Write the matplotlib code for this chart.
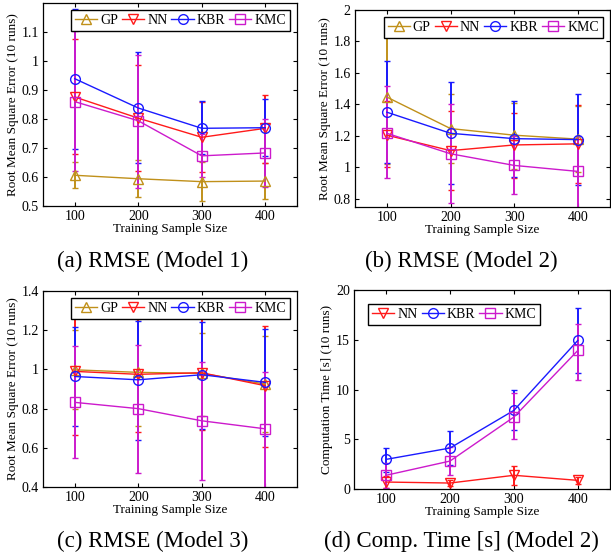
import matplotlib
matplotlib.use("Agg")
import matplotlib.pyplot as plt
from matplotlib.lines import Line2D

plt.rcParams['font.family'] = ['Liberation Serif', 'DejaVu Serif']
plt.rcParams['mathtext.fontset'] = 'stix'

sizes = [100, 200, 300, 400]

# ---- (a) RMSE Model 1 ----
a_gp = [0.606, 0.594, 0.584, 0.586]
a_gp_lo = [0.563, 0.532, 0.516, 0.523]
a_gp_hi = [0.652, 0.658, 0.652, 0.648]
a_nn = [0.876, 0.803, 0.737, 0.768]
a_nn_lo = [0.678, 0.620, 0.616, 0.648]
a_nn_hi = [1.077, 0.986, 0.857, 0.884]
a_kbr = [0.939, 0.838, 0.768, 0.770]
a_kbr_lo = [0.698, 0.647, 0.680, 0.672]
a_kbr_hi = [1.178, 1.030, 0.862, 0.868]
a_kmc = [0.860, 0.794, 0.673, 0.683]
a_kmc_lo = [0.620, 0.561, 0.600, 0.565]
a_kmc_hi = [1.104, 1.022, 0.750, 0.800]

# ---- (b) RMSE Model 2 ----
b_gp = [1.447, 1.247, 1.205, 1.180]
b_gp_lo = [1.020, 1.030, 0.990, 0.970]
b_gp_hi = [1.879, 1.464, 1.410, 1.390]
b_nn = [1.205, 1.107, 1.143, 1.150]
b_nn_lo = [1.000, 0.858, 0.935, 0.900]
b_nn_hi = [1.420, 1.357, 1.345, 1.394]
b_kbr = [1.351, 1.217, 1.183, 1.177]
b_kbr_lo = [1.026, 0.896, 0.940, 0.890]
b_kbr_hi = [1.675, 1.540, 1.420, 1.464]
b_kmc = [1.217, 1.087, 1.013, 0.975]
b_kmc_lo = [0.930, 0.777, 0.834, 0.700]
b_kmc_hi = [1.515, 1.400, 1.200, 1.200]

# ---- (c) RMSE Model 3 ----
c_gp = [0.998, 0.985, 0.980, 0.925]
c_gp_lo = [0.800, 0.713, 0.760, 0.680]
c_gp_hi = [1.200, 1.255, 1.187, 1.172]
c_nn = [0.990, 0.975, 0.983, 0.917]
c_nn_lo = [0.667, 0.679, 0.690, 0.605]
c_nn_hi = [1.310, 1.270, 1.270, 1.224]
c_kbr = [0.964, 0.947, 0.973, 0.934]
c_kbr_lo = [0.713, 0.638, 0.698, 0.658]
c_kbr_hi = [1.216, 1.248, 1.242, 1.208]
c_kmc = [0.832, 0.800, 0.738, 0.697]
c_kmc_lo = [0.548, 0.474, 0.437, 0.380]
c_kmc_hi = [1.117, 1.126, 1.040, 0.987]

# ---- (d) Computation time Model 2 ----
d_nn = [0.70, 0.60, 1.38, 0.87]
d_nn_lo = [0.10, 0.30, 0.45, 0.55]
d_nn_hi = [1.30, 0.90, 2.31, 1.20]
d_kbr = [2.98, 4.12, 7.91, 14.95]
d_kbr_lo = [1.70, 2.40, 5.90, 11.66]
d_kbr_hi = [4.16, 5.80, 9.99, 18.23]
d_kmc = [1.38, 2.81, 7.24, 13.94]
d_kmc_lo = [0.10, 1.45, 5.06, 10.92]
d_kmc_hi = [2.60, 4.20, 9.62, 16.60]

c_gp_col = '#c0901a'
c_nn_col = '#ff1a1a'
c_kbr_col = '#1a1aff'
c_kmc_col = '#cc1acc'

MS = 7


def serie(ax, m, lo, hi, col, mk, lab):
    err = [[v - l for v, l in zip(m, lo)], [h - v for v, h in zip(m, hi)]]
    ax.errorbar(sizes, m, yerr=err, color=col, marker=mk, ms=MS, mfc='none',
                mec=col, mew=1.0, lw=1.0, elinewidth=1.4, capsize=2,
                capthick=1.0)
    return Line2D([], [], color=col, marker=mk, ms=MS, mfc='none', mec=col,
                  mew=1.0, lw=1.0, label=lab)


def leyenda(ax, handles, loc, pad):
    lg = ax.legend(handles=handles, loc=loc, ncol=len(handles), fontsize=10,
                   frameon=True, fancybox=False, edgecolor='black', framealpha=1,
                   handlelength=1.6, handletextpad=0.2, columnspacing=0.3,
                   borderpad=0.3, borderaxespad=pad)
    lg.get_frame().set_linewidth(1.0)


def formato(ax, ylim, yticks, ylabel):
    ax.set_xlim(50, 450)
    ax.set_ylim(*ylim)
    ax.set_xticks(sizes)
    ax.set_yticks(yticks)
    ax.set_yticklabels([('%g' % t) for t in yticks])
    ax.tick_params(direction='in', top=True, right=True, labelsize=10,
                   length=3, width=0.8, pad=3)
    ax.set_xlabel("Training Sample Size", fontsize=9.5, labelpad=0)
    ax.set_ylabel(ylabel, fontsize=9.5, labelpad=2)
    for s in ax.spines.values():
        s.set_linewidth(0.9)


fig = plt.figure(figsize=(6.11, 5.56), dpi=100)
ax1 = fig.add_axes([0.0704, 0.6295, 0.4157, 0.365])
ax2 = fig.add_axes([0.581, 0.628, 0.417, 0.354])
ax3 = fig.add_axes([0.0704, 0.124, 0.4157, 0.3526])
ax4 = fig.add_axes([0.5795, 0.1205, 0.4185, 0.3575])

for ax, d in [(ax1, (a_gp, a_gp_lo, a_gp_hi, a_nn, a_nn_lo, a_nn_hi, a_kbr, a_kbr_lo, a_kbr_hi, a_kmc, a_kmc_lo, a_kmc_hi)),
              (ax2, (b_gp, b_gp_lo, b_gp_hi, b_nn, b_nn_lo, b_nn_hi, b_kbr, b_kbr_lo, b_kbr_hi, b_kmc, b_kmc_lo, b_kmc_hi)),
              (ax3, (c_gp, c_gp_lo, c_gp_hi, c_nn, c_nn_lo, c_nn_hi, c_kbr, c_kbr_lo, c_kbr_hi, c_kmc, c_kmc_lo, c_kmc_hi))]:
    h = [serie(ax, d[0], d[1], d[2], c_gp_col, '^', 'GP'),
         serie(ax, d[3], d[4], d[5], c_nn_col, 'v', 'NN'),
         serie(ax, d[6], d[7], d[8], c_kbr_col, 'o', 'KBR'),
         serie(ax, d[9], d[10], d[11], c_kmc_col, 's', 'KMC')]
    leyenda(ax, h, 'upper right', 0.5)

h4 = [serie(ax4, d_nn, d_nn_lo, d_nn_hi, c_nn_col, 'v', 'NN'),
      serie(ax4, d_kbr, d_kbr_lo, d_kbr_hi, c_kbr_col, 'o', 'KBR'),
      serie(ax4, d_kmc, d_kmc_lo, d_kmc_hi, c_kmc_col, 's', 'KMC')]
leyenda(ax4, h4, 'upper left', 1.0)

formato(ax1, (0.5, 1.2), [0.5, 0.6, 0.7, 0.8, 0.9, 1.0, 1.1], "Root Mean Square Error (10 runs)")
formato(ax2, (0.75, 2.0), [0.8, 1.0, 1.2, 1.4, 1.6, 1.8, 2.0], "Root Mean Square Error (10 runs)")
formato(ax3, (0.4, 1.4), [0.4, 0.6, 0.8, 1.0, 1.2, 1.4], "Root Mean Square Error (10 runs)")
formato(ax4, (0, 20), [0, 5, 10, 15, 20], "Computation Time [s] (10 runs)")

fig.text(0.25, 0.529, "(a) RMSE (Model 1)", ha='center', va='center', fontsize=16.5)
fig.text(0.755, 0.529, "(b) RMSE (Model 2)", ha='center', va='center', fontsize=16.5)
fig.text(0.25, 0.027, "(c) RMSE (Model 3)", ha='center', va='center', fontsize=16.5)
fig.text(0.755, 0.027, "(d) Comp. Time [s] (Model 2)", ha='center', va='center', fontsize=16.5)

fig.savefig("out.png", dpi=100)
